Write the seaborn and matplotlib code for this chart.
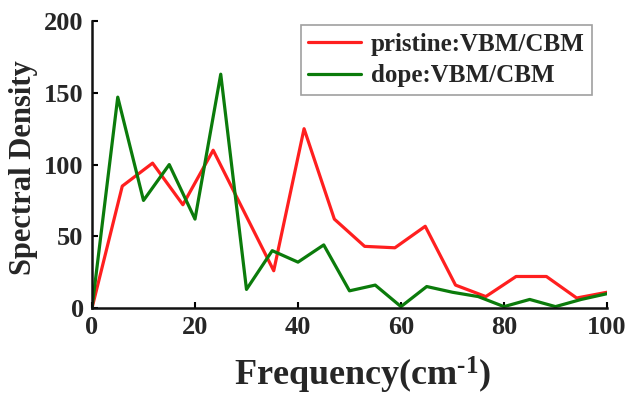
import numpy as np
import pandas as pd
import matplotlib
matplotlib.use("Agg")
import matplotlib.pyplot as plt
import seaborn as sns

# Pristine spectrum: 18 samples evenly spread over 0-100 cm^-1
pristine_freq = [0, 5.88, 11.76, 17.65, 23.53, 29.41, 35.29, 41.18, 47.06,
                 52.94, 58.82, 64.71, 70.59, 76.47, 82.35, 88.24, 94.12, 100]
pristine_density = [0, 85, 101, 72, 110, 68, 26, 125, 62,
                    43, 42, 57, 16, 8, 22, 22, 7, 11]

# Doped spectrum: samples every 5 cm^-1
dope_freq = [0, 5, 10, 15, 20, 25, 30, 35, 40, 45, 50,
             55, 60, 65, 70, 75, 80, 85, 90, 95, 100]
dope_density = [0, 147, 75, 100, 62, 163, 13, 40, 32, 44, 12,
                16, 1, 15, 11, 8, 1, 6, 1, 6, 10]

series_labels = ["pristine:VBM/CBM", "dope:VBM/CBM"]
x_ticks = [0, 20, 40, 60, 80, 100]
y_ticks = [0, 50, 100, 150, 200]

sns.set_style("ticks")
plt.rcParams["font.family"] = ["Liberation Serif", "DejaVu Serif"]
plt.rcParams["font.weight"] = "bold"
# bold serif for the superscript in the axis label
plt.rcParams["mathtext.fontset"] = "custom"
plt.rcParams["mathtext.rm"] = "Liberation Serif:bold"
plt.rcParams["mathtext.it"] = "Liberation Serif:bold"
plt.rcParams["mathtext.bf"] = "Liberation Serif:bold"

df_p = pd.DataFrame({"freq": pristine_freq, "density": pristine_density})
df_d = pd.DataFrame({"freq": dope_freq, "density": dope_density})

fig = plt.figure(figsize=(6.28, 3.98), dpi=100)
ax = fig.add_axes([0.1465, 0.226, 0.820, 0.721])

sns.lineplot(data=df_p, x="freq", y="density", ax=ax, color="#ff1f1f",
             linewidth=2.3, label=series_labels[0])
sns.lineplot(data=df_d, x="freq", y="density", ax=ax, color="#0b7b0b",
             linewidth=2.3, label=series_labels[1])

ax.set_xlim(0, 100)
ax.set_ylim(0, 200)
ax.set_xticks(x_ticks)
ax.set_yticks(y_ticks)
ax.tick_params(direction="in", length=4, width=1.5, labelsize=19,
               color="black")
ax.tick_params(axis="x", pad=6)
ax.tick_params(axis="y", pad=6)
for lab in ax.get_xticklabels() + ax.get_yticklabels():
    lab.set_fontweight("bold")

for side in ["top", "right"]:
    ax.spines[side].set_visible(False)
for side in ["left", "bottom"]:
    ax.spines[side].set_linewidth(1.8)
    ax.spines[side].set_color("#111111")

ax.set_xlabel(r"Frequency(cm$^{\text{-1}}$)", fontsize=26, fontweight="bold")
ax.xaxis.set_label_coords(0.526, -0.163)
ax.set_ylabel("Spectral Density", fontsize=22, fontweight="bold")
ax.yaxis.set_label_coords(-0.105, 0.49)

leg = ax.legend(loc="upper right", bbox_to_anchor=(0.971, 0.986), fontsize=18,
                frameon=True, fancybox=False, edgecolor="#888888",
                handlelength=2.1, borderpad=0.3, labelspacing=0.35,
                handletextpad=0.4, borderaxespad=0.0)
leg.get_frame().set_linewidth(1.2)
for t in leg.get_texts():
    t.set_fontweight("bold")

fig.savefig("out.png", dpi=100, facecolor="white")
